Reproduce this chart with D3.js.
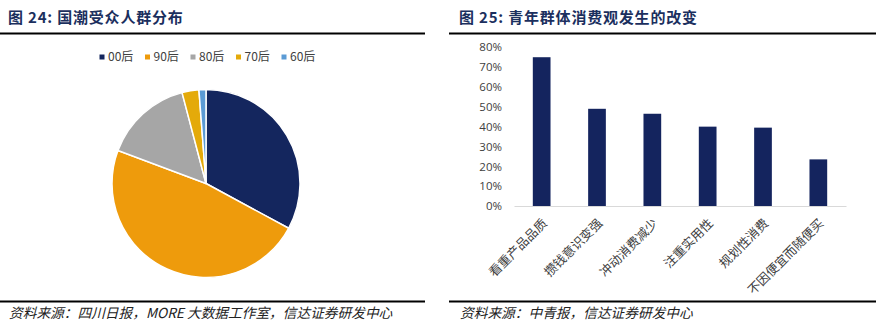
<!DOCTYPE html>
<html>
<head>
<meta charset="utf-8">
<script src="https://cdn.jsdelivr.net/npm/d3@7"></script>
<style>
  html, body { margin: 0; padding: 0; background: #fff; }
  svg { display: block; }
</style>
</head>
<body>
<svg id="chart" width="876" height="332"></svg>
<script>
// Figure 24: audience of "guochao" by generation (pie)
const pieLabels = ["00后", "90后", "80后", "70后", "60后"];
const pieValues = [32.9, 47.8, 15.2, 2.9, 1.2];
const pieColors = ["#14265e", "#ee9b0c", "#a6a6a6", "#e4aa0a", "#5b9bd5"];

// Figure 25: changes in young consumers' spending habits (bars)
const barCategories = ["看重产品品质", "攒钱意识变强", "冲动消费减少", "注重实用性", "规划性消费", "不因便宜而随便买"];
const barValues = [0.75, 0.49, 0.465, 0.40, 0.395, 0.235];
const yTicks = [0, 0.1, 0.2, 0.3, 0.4, 0.5, 0.6, 0.7, 0.8];

const titleLeft = "图 24:  国潮受众人群分布";
const titleRight = "图 25:  青年群体消费观发生的改变";
const sourceLeft = "资料来源：四川日报，MORE 大数据工作室，信达证券研发中心";
const sourceRight = "资料来源：中青报，信达证券研发中心";

const svg = d3.select("#chart");
const cjk = "'Noto Sans CJK SC', 'Noto Sans', sans-serif";

// ---- headers and footers ----
function header(x0, x1, text, dx) {
  svg.append("text")
    .attr("x", x0 + dx).attr("y", 23)
    .attr("font-family", cjk).attr("font-size", 15).attr("font-weight", 700)
    .attr("letter-spacing", 0.8)
    .attr("fill", "#1b2f5e").text(text);
  svg.append("line")
    .attr("x1", x0).attr("x2", x1).attr("y1", 33.5).attr("y2", 33.5)
    .attr("stroke", "#000").attr("stroke-width", 2.2);
}
function footer(x0, x1, text, dx) {
  svg.append("line")
    .attr("x1", x0).attr("x2", x1).attr("y1", 301.5).attr("y2", 301.5)
    .attr("stroke", "#000").attr("stroke-width", 1.8);
  svg.append("text")
    .attr("x", x0 + dx).attr("y", 317.5)
    .attr("font-family", cjk).attr("font-size", 13.7).attr("font-style", "italic")
    .attr("fill", "#222").text(text);
}
header(0, 425, titleLeft, 8);
header(449, 876, titleRight, 10);
footer(0, 425, sourceLeft, 9);
footer(449, 876, sourceRight, 11);

// ---- pie ----
const pieG = svg.append("g").attr("transform", "translate(206,183.5)");
const pie = d3.pie().sort(null).value(d => d);
const arc = d3.arc().innerRadius(0).outerRadius(94);
pieG.selectAll("path")
  .data(pie(pieValues))
  .join("path")
  .attr("d", arc)
  .attr("fill", (d, i) => pieColors[i])
  .attr("stroke", "#fff")
  .attr("stroke-width", 1.5)
  .attr("stroke-linejoin", "round");

// legend
const legendX = d3.scalePoint().domain(pieLabels).range([102, 284]);
const legend = svg.append("g").selectAll("g")
  .data(pieLabels)
  .join("g")
  .attr("transform", d => `translate(${legendX(d)},57)`);
legend.append("rect")
  .attr("x", -2.5).attr("y", -2.5).attr("width", 5).attr("height", 5)
  .attr("fill", (d, i) => pieColors[i]);
legend.append("text")
  .attr("x", 6).attr("y", 0).attr("dy", "0.36em")
  .attr("font-family", cjk).attr("font-size", 12).attr("fill", "#404040")
  .text(d => d);

// ---- bars ----
const x = d3.scaleBand().domain(barCategories).range([514, 846]).paddingInner(0.68).paddingOuter(0.34);
const y = d3.scaleLinear().domain([0, 0.8]).range([206, 47.3]);

const yAxis = svg.append("g")
  .attr("transform", "translate(502,0)")
  .call(d3.axisLeft(y).tickValues(yTicks).tickFormat(d3.format(".0%")).tickSize(0).tickPadding(0));
yAxis.select(".domain").remove();
yAxis.selectAll("text")
  .attr("font-family", "'Open Sans', 'Liberation Sans', sans-serif")
  .attr("font-size", 11.5).attr("fill", "#404040");

svg.append("g").selectAll("rect")
  .data(barValues)
  .join("rect")
  .attr("x", (d, i) => x(barCategories[i]))
  .attr("width", x.bandwidth())
  .attr("y", d => y(d))
  .attr("height", d => y(0) - y(d))
  .attr("fill", "#14245e");

const xAxis = svg.append("g")
  .attr("transform", `translate(0,${y(0)})`)
  .call(d3.axisBottom(x).tickSize(0).tickPadding(0));
xAxis.select(".domain").attr("stroke", "#d9d9d9").attr("stroke-width", 1.2);
xAxis.selectAll("text")
  .attr("font-family", cjk).attr("font-size", 12.6).attr("fill", "#404040")
  .attr("text-anchor", "end")
  .attr("dy", "0.35em")
  .attr("transform", "translate(3,15) rotate(-45)");
</script>
</body>
</html>
